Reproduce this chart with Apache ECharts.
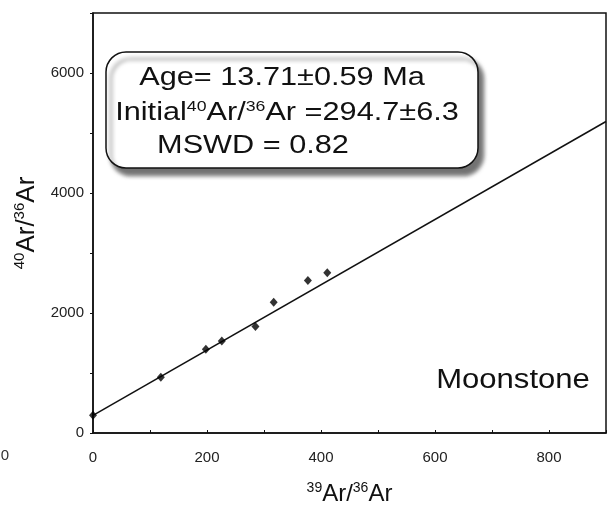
<!DOCTYPE html>
<html>
<head>
<meta charset="utf-8">
<script src="https://cdn.jsdelivr.net/npm/echarts@6/dist/echarts.min.js"></script>
<style>
html,body{margin:0;padding:0;background:#fff;}
#chart{width:607px;height:506px;}
</style>
</head>
<body>
<div id="chart"></div>
<script>
// Data
const ratio39 = [0, 119, 198, 226, 285, 317, 377, 411];
const ratio40 = [295, 929, 1395, 1535, 1776, 2180, 2543, 2672];
const isoX = [0, 900];
const isoY = [294.7, 5192];
const xTicks = [0, 200, 400, 600, 800];
const yTicks = [0, 2000, 4000, 6000];
const boxLines = ['Age= 13.71±0.59 Ma', 'Initial{s|40}Ar/{s|36}Ar =294.7±6.3', 'MSWD = 0.82'];
const sampleName = 'Moonstone';

const chart = echarts.init(document.getElementById('chart'), null, {renderer: 'canvas'});
const font = 'Liberation Sans, Arial, sans-serif';

const option = {
  backgroundColor: '#fff',
  animation: false,
  grid: {left: 93, right: 1, top: 13, bottom: 73, outerBoundsMode: 'none', containLabel: false,
    show: true, borderColor: '#111', borderWidth: 1.5, backgroundColor: 'transparent'},
  xAxis: {
    type: 'value', min: 0, max: 900, interval: 200,
    axisLine: {show: true, onZero: false, lineStyle: {color: '#111', width: 1.5}},
    axisTick: {show: true, inside: true, length: 3, lineStyle: {color: '#111'}},
    minorTick: {show: true, splitNumber: 2, length: 3, lineStyle: {color: '#111'}},
    splitLine: {show: false},
    axisLabel: {margin: 17, fontSize: 15, color: '#222', fontFamily: font, showMaxLabel: false,
      formatter: v => xTicks.includes(v) ? String(v) : ''},
    name: '{s|39}Ar/{s|36}Ar', nameLocation: 'middle', nameGap: 48,
    nameTextStyle: {fontSize: 24, color: '#111', fontFamily: font,
      rich: {s: {fontSize: 14, color: '#111', fontFamily: font, padding: [0,0,12,0]}}}
  },
  yAxis: {
    type: 'value', min: 0, max: 7000, interval: 2000,
    axisLine: {show: true, onZero: false, lineStyle: {color: '#111', width: 1.5}},
    axisTick: {show: true, length: 3, lineStyle: {color: '#111'}},
    minorTick: {show: true, splitNumber: 2, length: 3, lineStyle: {color: '#111'}},
    splitLine: {show: false},
    axisLabel: {margin: 9, fontSize: 15, color: '#222', fontFamily: font, showMaxLabel: false,
      formatter: v => yTicks.includes(v) ? String(v) : ''},
    name: '{s|40}Ar/{s|36}Ar', nameLocation: 'middle', nameGap: 50, nameRotate: 90,
    nameTextStyle: {fontSize: 26, color: '#111', fontFamily: font,
      rich: {s: {fontSize: 15, color: '#111', fontFamily: font, padding: [0,0,13,0]}}}
  },
  series: [
    {
      type: 'line', data: isoX.map((x, i) => [x, isoY[i]]), showSymbol: false, symbol: 'none',
      lineStyle: {color: '#111', width: 1.5}, z: 2
    },
    {
      type: 'scatter', data: ratio39.map((x, i) => [x, ratio40[i]]),
      symbol: 'diamond', symbolSize: [8, 9], itemStyle: {color: '#000'}, z: 3
    }
  ],
  graphic: [
    {type: 'rect', shape: {x: 106, y: 52, width: 372, height: 116, r: 20},
      style: {fill: '#fff', stroke: '#111', lineWidth: 1.5, shadowColor: 'rgba(0,0,0,0.55)', shadowOffsetX: 5, shadowOffsetY: 7, shadowBlur: 4}, z: 10},
    {type: 'text', x: 282, y: 78, scaleX: 1.18, z: 11,
      style: {text: boxLines[0], font: '26px ' + font, fill: '#111', align: 'center', verticalAlign: 'middle'}},
    {type: 'text', x: 287, y: 113, scaleX: 1.18, z: 11,
      style: {text: boxLines[1], fontSize: 26, fontFamily: font, fill: '#111', align: 'center', verticalAlign: 'middle',
        rich: {s: {fontSize: 15, fontFamily: font, fill: '#111', padding: [0,0,13,0]}}}},
    {type: 'text', x: 253, y: 146, scaleX: 1.18, z: 11,
      style: {text: boxLines[2], font: '26px ' + font, fill: '#111', align: 'center', verticalAlign: 'middle'}},
    {type: 'text', x: 513, y: 381, scaleX: 1.15, z: 11,
      style: {text: sampleName, font: '27px ' + font, fill: '#111', align: 'center', verticalAlign: 'middle'}},
    {type: 'text', x: 9, y: 456, z: 11,
      style: {text: '0', font: '15px ' + font, fill: '#333', align: 'right', verticalAlign: 'middle'}}
  ]
};
chart.setOption(option);
</script>
</body>
</html>
